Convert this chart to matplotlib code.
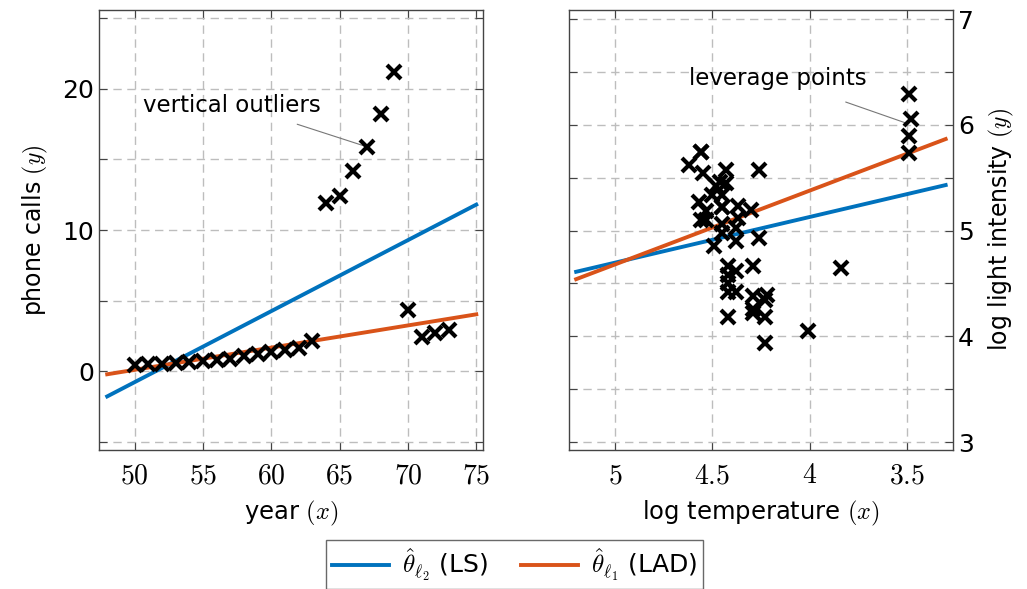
import matplotlib
matplotlib.use("Agg")
import matplotlib.pyplot as plt
from matplotlib.ticker import FuncFormatter, MultipleLocator

plt.rcParams['font.family'] = ['DejaVu Sans']
plt.rcParams['mathtext.fontset'] = 'cm'

# Belgian phone calls data
years = [50, 51, 52, 53, 54, 55, 56, 57, 58, 59, 60, 61, 62, 63,
         64, 65, 66, 67, 68, 69, 70, 71, 72, 73]
calls = [0.44, 0.47, 0.47, 0.59, 0.66, 0.73, 0.81, 0.88, 1.06, 1.20, 1.35, 1.49, 1.61, 2.12,
         11.9, 12.4, 14.2, 15.9, 18.2, 21.2, 4.3, 2.4, 2.7, 2.9]

# fitted lines for the phone data (end points)
phone_fit_x = [48, 75]
phone_ls_y = [-1.8, 11.8]
phone_lad_y = [-0.23, 4.02]

# star cluster CYG OB1 data
log_temp = [4.37, 4.56, 4.26, 4.56, 4.30, 4.46, 3.84, 4.57, 4.26, 4.37, 3.49, 4.43, 4.48, 4.01,
            4.29, 4.42, 4.23, 4.42, 4.23, 3.49, 4.29, 4.29, 4.42, 4.49, 4.38, 4.42, 4.29, 4.38,
            4.22, 3.48, 4.38, 4.56, 4.45, 3.49, 4.23, 4.62, 4.53, 4.45, 4.53, 4.43, 4.38, 4.45,
            4.50, 4.45, 4.55, 4.45, 4.42]
log_light = [5.23, 5.74, 4.93, 5.74, 5.19, 5.46, 4.65, 5.27, 5.57, 5.12, 5.73, 5.45, 5.42, 4.05,
             4.26, 4.58, 3.94, 4.18, 4.18, 5.89, 4.38, 4.22, 4.42, 4.85, 5.02, 4.66, 4.66, 4.90,
             4.39, 6.05, 4.42, 5.10, 5.22, 6.29, 4.34, 5.62, 5.10, 5.22, 5.18, 5.57, 4.62, 5.06,
             5.34, 5.34, 5.54, 4.98, 4.50]

star_fit_x = [5.2, 3.3]
star_ls_y = [4.61, 5.43]
star_lad_y = [4.54, 5.865]

blue = '#0072BD'
orange = '#D95319'
grid_kw = dict(color='#bdbdbd', linestyle=(0, (6, 4)), linewidth=1.0)

fig = plt.figure(figsize=(10.27, 5.89), dpi=100)
ax1 = fig.add_axes([0.0964, 0.236, 0.374, 0.747])
ax2 = fig.add_axes([0.554, 0.236, 0.374, 0.747])

# left panel
ax1.plot(phone_fit_x, phone_ls_y, color=blue, lw=2.8, label=r'$\hat{\theta}_{\ell_2}$ (LS)')
ax1.plot(phone_fit_x, phone_lad_y, color=orange, lw=2.8, label=r'$\hat{\theta}_{\ell_1}$ (LAD)')
ax1.plot(years, calls, 'x', color='black', ms=10, mew=3, zorder=5)
ax1.set_xlim(47.4, 75.5)
ax1.set_ylim(-5.6, 25.6)
ax1.xaxis.set_major_locator(MultipleLocator(5))
ax1.yaxis.set_major_locator(MultipleLocator(5))
ax1.xaxis.set_major_formatter(FuncFormatter(lambda v, p: r'$%d$' % v))
ax1.yaxis.set_major_formatter(FuncFormatter(lambda v, p: '%d' % v if round(v) % 10 == 0 else ''))
ax1.set_xlabel(r'year $(x)$', fontsize=17.5, labelpad=7)
ax1.set_ylabel(r'phone calls $(y)$', fontsize=17, labelpad=9)
i67 = years.index(67)
ax1.annotate('', xy=(years[i67], calls[i67]), xytext=(61.9, 17.5),
             arrowprops=dict(arrowstyle='-', color='#777777', lw=0.8, shrinkA=0, shrinkB=2))
ax1.text(57.1, 18.8, 'vertical outliers', fontsize=16.5, ha='center', va='center')

# right panel
ax2.plot(star_fit_x, star_ls_y, color=blue, lw=2.8)
ax2.plot(star_fit_x, star_lad_y, color=orange, lw=2.8)
ax2.plot(log_temp, log_light, 'x', color='black', ms=10, mew=3, zorder=5)
ax2.set_xlim(5.237, 3.262)
ax2.set_ylim(2.925, 7.085)
ax2.xaxis.set_major_locator(MultipleLocator(0.5))
ax2.yaxis.set_major_locator(MultipleLocator(0.5))
ax2.xaxis.set_major_formatter(FuncFormatter(lambda v, p: r'$%g$' % v))
ax2.yaxis.set_major_formatter(FuncFormatter(lambda v, p: '%d' % round(v) if abs(v - round(v)) < 1e-6 else ''))
ax2.yaxis.set_label_position('right')
ax2.set_xlabel(r'log temperature $(x)$', fontsize=17.5, labelpad=7)
ax2.set_ylabel(r'log light intensity $(y)$', fontsize=17, labelpad=9)
ax2.annotate('', xy=(3.51, 6.02), xytext=(3.814, 6.215),
             arrowprops=dict(arrowstyle='-', color='#777777', lw=0.8, shrinkA=0, shrinkB=0))
ax2.text(4.162, 6.44, 'leverage points', fontsize=16.5, ha='center', va='center')

for ax in (ax1, ax2):
    ax.grid(True, **grid_kw)
    ax.set_axisbelow(True)
    ax.tick_params(direction='in', top=True, right=True, length=6, width=0.8,
                   color='#444444', labelsize=18)
    ax.tick_params(axis='x', labelsize=20, pad=8)
    for s in ax.spines.values():
        s.set_color('#444444')
        s.set_linewidth(1.0)

ax2.tick_params(axis='y', labelleft=False, labelright=True)

fig.legend(loc='upper center', bbox_to_anchor=(0.501, 0.083), ncol=2, fontsize=18,
           frameon=True, fancybox=False, edgecolor='#444444', handlelength=2.3,
           columnspacing=1.3, borderpad=0.25, borderaxespad=0, handletextpad=0.5)

fig.savefig('out.png', dpi=100)
